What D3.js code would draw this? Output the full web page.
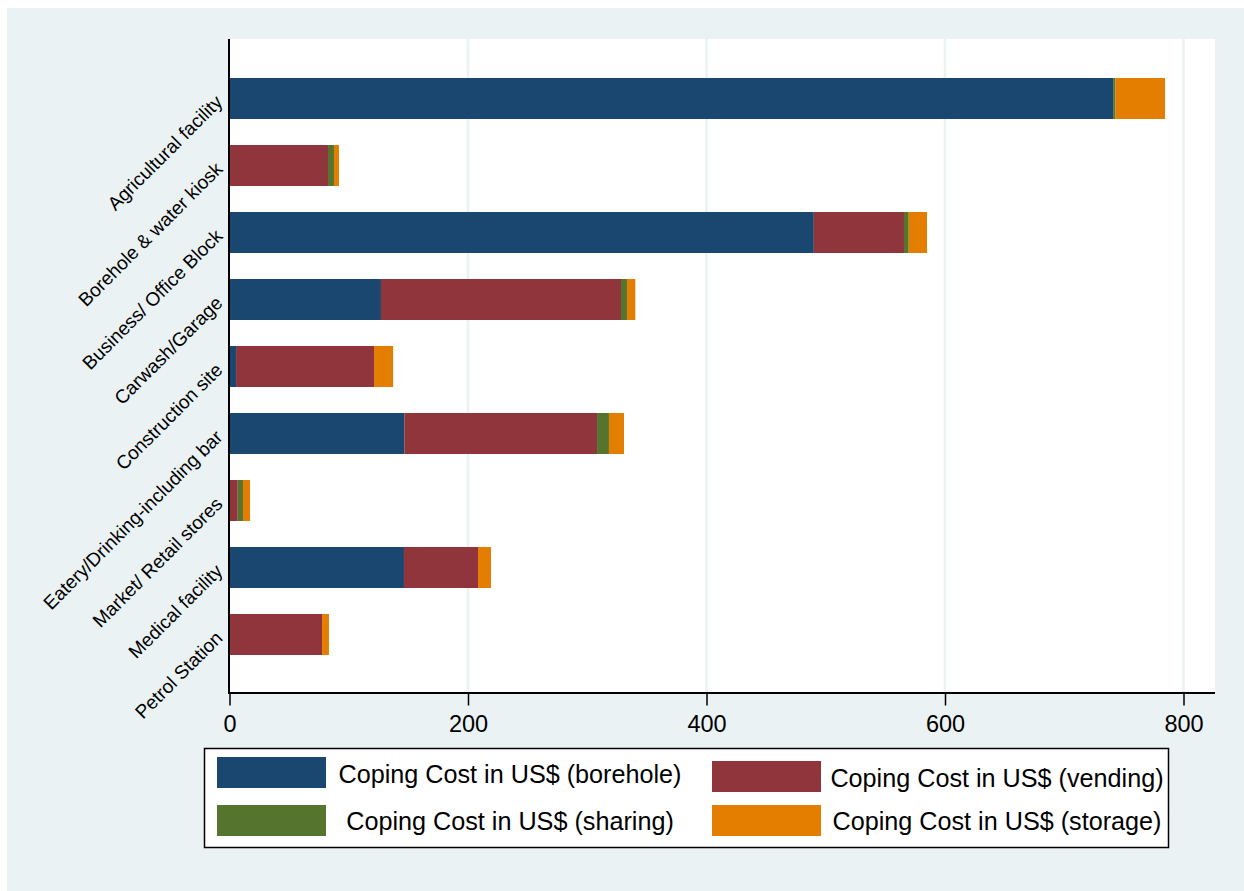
<!DOCTYPE html>
<html>
<head>
<meta charset="utf-8">
<script src="https://cdn.jsdelivr.net/npm/d3@7"></script>
<style>
  body { margin: 0; background: #fff; }
  text { font-family: "Liberation Sans", Arial, Helvetica, sans-serif; fill: #000; }
</style>
</head>
<body>
<script>
// categories and coping cost series (US$)
var categories = ["Agricultural facility", "Borehole & water kiosk", "Business/ Office Block",
  "Carwash/Garage", "Construction site", "Eatery/Drinking-including bar",
  "Market/ Retail stores", "Medical facility", "Petrol Station"];
var borehole = [741, 0, 490, 127, 5.5, 146.6, 0, 146.3, 0];
var vending  = [0, 82.6, 75.6, 201.3, 115.7, 161.6, 6.9, 62.1, 77.6];
var sharing  = [2, 5, 4, 5, 0, 10, 4.4, 0, 0];
var storage  = [41.5, 4.2, 15.3, 7, 16, 12.6, 5.9, 10.9, 5.8];
var xTicks = [0, 200, 400, 600, 800];
var seriesKeys = ["borehole", "vending", "sharing", "storage"];
var seriesLabels = ["Coping Cost in US$ (borehole)", "Coping Cost in US$ (vending)",
  "Coping Cost in US$ (sharing)", "Coping Cost in US$ (storage)"];
var colors = ["#1a476f", "#90353b", "#55752f", "#e37e00"];

var W = 1244, H = 891;
var plot = {left: 229, right: 1215, top: 39, bottom: 693};

var rows = categories.map(function(c, i){
  return {cat: c, borehole: borehole[i], vending: vending[i], sharing: sharing[i], storage: storage[i]};
});

var svg = d3.select("body").append("svg")
  .attr("width", W).attr("height", H);

// outer panel
svg.append("rect").attr("x", 7).attr("y", 8)
  .attr("width", W - 7).attr("height", H - 8).attr("fill", "#eaf2f3");

// plot region
svg.append("rect").attr("x", plot.left).attr("y", plot.top)
  .attr("width", plot.right - plot.left).attr("height", plot.bottom - plot.top)
  .attr("fill", "#fff");

var x = d3.scaleLinear().domain([0, 800]).range([229.5, 1183.5]);
var y = d3.scaleBand().domain(categories)
  .range([plot.top + 26, plot.bottom - 25])
  .paddingInner(0.388).paddingOuter(0.194);

// grid
svg.append("g").selectAll("line")
  .data(xTicks.filter(function(d){ return d > 0; }))
  .enter().append("line")
  .attr("x1", function(d){ return x(d); }).attr("x2", function(d){ return x(d); })
  .attr("y1", plot.top).attr("y2", plot.bottom)
  .attr("stroke", "#eaf2f3").attr("stroke-width", 2.5);

// stacked bars
var stack = d3.stack().keys(seriesKeys)(rows);
svg.append("g").selectAll("g")
  .data(stack)
  .enter().append("g")
  .attr("fill", function(d, i){ return colors[i]; })
  .selectAll("rect")
  .data(function(d){ return d; })
  .enter().append("rect")
  .attr("x", function(d){ return x(d[0]); })
  .attr("y", function(d){ return y(d.data.cat); })
  .attr("width", function(d){ return Math.max(0, x(d[1]) - x(d[0])); })
  .attr("height", y.bandwidth());

// x axis
var xAxis = svg.append("g")
  .attr("transform", "translate(0," + plot.bottom + ")")
  .call(d3.axisBottom(x).tickValues(xTicks).tickSize(12.5).tickPadding(10));
xAxis.select(".domain").remove();
xAxis.append("line").attr("x1", plot.left).attr("x2", plot.right)
  .attr("stroke", "#000").attr("stroke-width", 2);
xAxis.selectAll(".tick line").attr("stroke", "#000").attr("stroke-width", 1.5);
xAxis.selectAll(".tick text")
  .style("font-family", '"Liberation Sans", Arial, sans-serif')
  .style("font-size", "23.5px").attr("fill", "#000");

// y axis line
svg.append("line").attr("x1", plot.left).attr("x2", plot.left)
  .attr("y1", plot.top).attr("y2", plot.bottom + 1)
  .attr("stroke", "#000").attr("stroke-width", 2);

// category labels, rotated 45
svg.append("g").selectAll("text")
  .data(categories)
  .enter().append("text")
  .attr("transform", function(d){
    return "translate(219," + (y(d) + y.bandwidth() / 2) + ")rotate(-45)";
  })
  .attr("text-anchor", "end")
  .attr("dy", "0.35em")
  .style("font-size", "19px")
  .text(function(d){ return d; });

// legend
var lg = svg.append("g");
lg.append("rect").attr("x", 204.5).attr("y", 748.5)
  .attr("width", 964).attr("height", 99)
  .attr("fill", "#fff").attr("stroke", "#000").attr("stroke-width", 1.5);

var legendPos = [
  {sx: 217, sy: 757, tx: 510, ty: 783},
  {sx: 712, sy: 761, tx: 997, ty: 787},
  {sx: 217, sy: 805, tx: 510, ty: 830},
  {sx: 712, sy: 805, tx: 997, ty: 830}
];
seriesLabels.forEach(function(lab, i){
  var p = legendPos[i];
  lg.append("rect").attr("x", p.sx).attr("y", p.sy)
    .attr("width", 109).attr("height", 31).attr("fill", colors[i]);
  lg.append("text").attr("x", p.tx).attr("y", p.ty)
    .attr("text-anchor", "middle")
    .style("font-size", "25.2px")
    .text(lab);
});
</script>
</body>
</html>
